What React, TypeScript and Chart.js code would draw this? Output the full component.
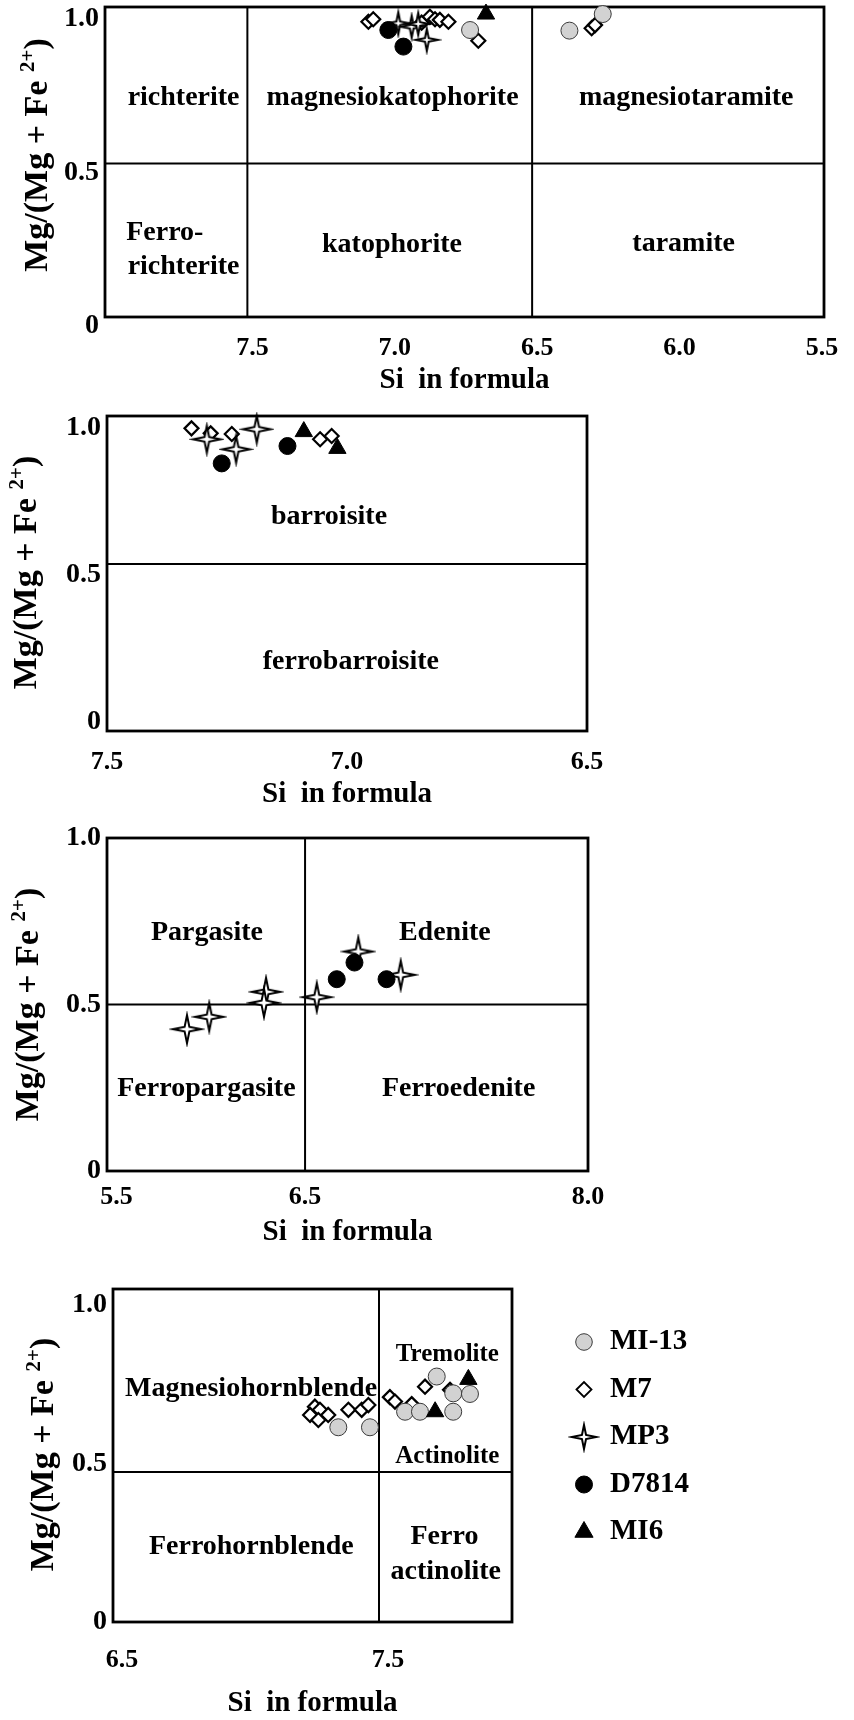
import React, { useEffect, useRef } from 'react';
import { Chart, registerables } from 'chart.js';
import { drawPoint } from 'chart.js/helpers';

Chart.register(...registerables);

const FONT = '"Liberation Serif", "Times New Roman", Times, serif';
Chart.defaults.font.family = FONT;
Chart.defaults.font.weight = 'bold';
Chart.defaults.color = '#000';

type Pt = [number, number];

// ---------- series ----------
const SERIES = ['MI-13', 'M7', 'MP3', 'D7814', 'MI6'];
// drawing order: first = on top
const DRAW_ORDER = ['MI6', 'D7814', 'MP3', 'MI-13', 'M7'];

// ---------- Panel 1 : richterite / katophorite / taramite ----------
const P1_MI13: Pt[] = [[6.718, 0.935], [6.369, 0.933], [6.252, 0.987]];
const P1_M7: Pt[] = [[7.075, 0.962], [7.058, 0.970], [6.888, 0.959], [6.859, 0.978], [6.841, 0.970], [6.824, 0.968], [6.794, 0.962], [6.689, 0.900], [6.291, 0.941], [6.279, 0.951]];
const P1_MP3: Pt[] = [[6.970, 0.957], [6.923, 0.946], [6.900, 0.955], [6.870, 0.903]];
const P1_D7814: Pt[] = [[7.005, 0.935], [6.952, 0.881]];
const P1_MI6: Pt[] = [[6.662, 0.987]];
const P1_SI_RANGE = [5.475, 8.0];
const P1_MG_RANGE = [0, 1.01];
const P1_SI_TICKS = ['7.5', '7.0', '6.5', '6.0', '5.5'];
const P1_MG_TICKS = ['0', '0.5', '1.0'];
const P1_SI_BOUNDS = [7.5, 6.5];
const P1_MG_BOUNDS = [0.5];
const P1_FIELDS = [
  { text: 'richterite', x: 7.724, y: 0.713 },
  { text: 'magnesiokatophorite', x: 6.99, y: 0.713 },
  { text: 'magnesiotaramite', x: 5.959, y: 0.713 },
  { text: 'Ferro-', x: 7.79, y: 0.274 },
  { text: 'richterite', x: 7.724, y: 0.163 },
  { text: 'katophorite', x: 6.992, y: 0.235 },
  { text: 'taramite', x: 5.968, y: 0.24 },
];

// ---------- Panel 2 : barroisite ----------
const P2_MI13: Pt[] = [];
const P2_M7: Pt[] = [[7.324, 0.998], [7.284, 0.981], [7.240, 0.979], [7.056, 0.961], [7.032, 0.972]];
const P2_MP3: Pt[] = [[7.292, 0.961], [7.231, 0.927], [7.188, 0.995]];
const P2_D7814: Pt[] = [[7.261, 0.879], [7.124, 0.938]];
const P2_MI6: Pt[] = [[7.090, 0.987], [7.020, 0.930]];
const P2_SI_RANGE = [6.5, 7.5];
const P2_MG_RANGE = [-0.03, 1.04];
const P2_SI_TICKS = ['7.5', '7.0', '6.5'];
const P2_MG_TICKS = ['0', '0.5', '1.0'];
const P2_SI_BOUNDS: number[] = [];
const P2_MG_BOUNDS = [0.537];
const P2_FIELDS = [
  { text: 'barroisite', x: 7.0375, y: 0.698 },
  { text: 'ferrobarroisite', x: 6.992, y: 0.205 },
];

// ---------- Panel 3 : pargasite / edenite ----------
const P3_MI13: Pt[] = [];
const P3_M7: Pt[] = [];
const P3_MP3: Pt[] = [[6.782, 0.659], [7.007, 0.589], [6.562, 0.522], [6.293, 0.538], [6.282, 0.505], [5.992, 0.463], [5.874, 0.426]];
const P3_D7814: Pt[] = [[6.668, 0.576], [6.762, 0.626], [6.932, 0.576]];
const P3_MI6: Pt[] = [];
const P3_SI_RANGE = [5.45, 8.0];
const P3_MG_RANGE = [0, 1.0];
const P3_SI_TICKS = ['5.5', '6.5', '8.0'];
const P3_MG_TICKS = ['0', '0.5', '1.0'];
const P3_SI_BOUNDS = [6.5];
const P3_MG_BOUNDS = [0.5];
const P3_FIELDS = [
  { text: 'Pargasite', x: 5.98, y: 0.714 },
  { text: 'Edenite', x: 7.241, y: 0.714 },
  { text: 'Ferropargasite', x: 5.977, y: 0.248 },
  { text: 'Ferroedenite', x: 7.314, y: 0.248 },
];

// ---------- Panel 4 : hornblende / actinolite ----------
const P4_MI13: Pt[] = [[7.717, 0.774], [7.779, 0.721], [7.842, 0.719], [7.598, 0.663], [7.654, 0.663], [7.779, 0.663], [7.347, 0.614], [7.466, 0.614]];
const P4_M7: Pt[] = [[7.673, 0.742], [7.767, 0.732], [7.541, 0.709], [7.560, 0.695], [7.623, 0.687], [7.259, 0.679], [7.241, 0.653], [7.278, 0.669], [7.309, 0.653], [7.272, 0.637], [7.385, 0.669], [7.435, 0.669], [7.460, 0.684]];
const P4_MP3: Pt[] = [];
const P4_D7814: Pt[] = [];
const P4_MI6: Pt[] = [[7.836, 0.765], [7.711, 0.663]];
const P4_SI_RANGE = [6.5, 8.0];
const P4_MG_RANGE = [0, 1.05];
const P4_SI_TICKS = ['6.5', '7.5'];
const P4_MG_TICKS = ['0', '0.5', '1.0'];
const P4_SI_BOUNDS = [7.5];
const P4_MG_BOUNDS = [0.473];
const P4_FIELDS = [
  { text: 'Magnesiohornblende', x: 7.019, y: 0.737 },
  { text: 'Tremolite', x: 7.757, y: 0.842, size: 25 },
  { text: 'Actinolite', x: 7.757, y: 0.521, size: 25 },
  { text: 'Ferrohornblende', x: 7.02, y: 0.237 },
  { text: 'Ferro', x: 7.746, y: 0.269 },
  { text: 'actinolite', x: 7.751, y: 0.159 },
];

// ---------- marker styles ----------
function makeStar(R: number, lw: number): HTMLCanvasElement {
  const size = Math.ceil(2 * R + lw * 2 + 4);
  const c = document.createElement('canvas');
  c.width = size;
  c.height = size;
  const ctx = c.getContext('2d')!;
  const cx = size / 2;
  const cy = size / 2;
  const r = R * 0.24;
  ctx.beginPath();
  for (let i = 0; i < 8; i++) {
    const ang = -Math.PI / 2 + (i * Math.PI) / 4;
    const rad = i % 2 === 0 ? R : r;
    const px = cx + Math.cos(ang) * rad;
    const py = cy + Math.sin(ang) * rad;
    if (i === 0) ctx.moveTo(px, py);
    else ctx.lineTo(px, py);
  }
  ctx.closePath();
  ctx.fillStyle = '#fff';
  ctx.fill();
  ctx.lineWidth = lw;
  ctx.lineJoin = 'miter';
  ctx.strokeStyle = '#000';
  ctx.stroke();
  return c;
}

function seriesStyle(name: string, starR: number) {
  switch (name) {
    case 'MI-13':
      return { pointStyle: 'circle', pointRadius: 8.5, backgroundColor: '#d2d2d2', borderColor: '#3a3a3a', borderWidth: 1 };
    case 'M7':
      return { pointStyle: 'rectRot', pointRadius: 7, backgroundColor: '#fff', borderColor: '#000', borderWidth: 2.2 };
    case 'MP3':
      return { pointStyle: makeStar(starR, 2), pointRadius: starR, backgroundColor: '#fff', borderColor: '#000', borderWidth: 2 };
    case 'D7814':
      return { pointStyle: 'circle', pointRadius: 8.5, backgroundColor: '#000', borderColor: '#000', borderWidth: 1 };
    default:
      return { pointStyle: 'triangle', pointRadius: 10, backgroundColor: '#000', borderColor: '#000', borderWidth: 1 };
  }
}

const LEGEND_STYLE: Record<string, any> = {
  'MI-13': { pointStyle: 'circle', radius: 8.3, fill: '#d2d2d2', stroke: '#3a3a3a', borderWidth: 1 },
  M7: { pointStyle: 'rectRot', radius: 7.5, fill: '#fff', stroke: '#000', borderWidth: 1.8 },
  MP3: { star: 12 },
  D7814: { pointStyle: 'circle', radius: 8.5, fill: '#000', stroke: '#000', borderWidth: 1 },
  MI6: { pointStyle: 'triangle', radius: 10.5, fill: '#000', stroke: '#000', borderWidth: 1 },
};

// ---------- decoration plugin ----------
function drawYTitle(ctx: CanvasRenderingContext2D, cx: number, cy: number, size: number) {
  const main = 'Mg/(Mg + Fe ';
  const sup = '2+';
  const end = ')';
  const f1 = `bold ${size}px ${FONT}`;
  const f2 = `bold ${Math.round(size * 0.62)}px ${FONT}`;
  ctx.save();
  ctx.translate(cx, cy);
  ctx.rotate(-Math.PI / 2);
  ctx.font = f1;
  const w1 = ctx.measureText(main).width;
  const w3 = ctx.measureText(end).width;
  ctx.font = f2;
  const w2 = ctx.measureText(sup).width;
  let x = -(w1 + w2 + w3) / 2;
  const base = size * 0.33;
  ctx.fillStyle = '#000';
  ctx.textAlign = 'left';
  ctx.textBaseline = 'alphabetic';
  ctx.font = f1;
  ctx.fillText(main, x, base);
  x += w1;
  ctx.font = f2;
  ctx.fillText(sup, x, base - size * 0.38);
  x += w2;
  ctx.font = f1;
  ctx.fillText(end, x, base);
  ctx.restore();
}

const decorPlugin = {
  id: 'decor',
  beforeDatasetsDraw(chart: any, _args: any, opts: any) {
    const { ctx, chartArea: a, scales } = chart;
    ctx.save();
    ctx.fillStyle = '#000';
    ctx.textAlign = 'center';
    ctx.textBaseline = 'middle';
    for (const f of opts.fields || []) {
      ctx.font = `bold ${f.size || 28}px ${FONT}`;
      ctx.fillText(f.text, scales.x.getPixelForValue(f.x), scales.y.getPixelForValue(f.y));
    }
    ctx.lineWidth = 2.8;
    ctx.strokeStyle = '#000';
    ctx.strokeRect(a.left, a.top, a.right - a.left, a.bottom - a.top);
    ctx.restore();
  },
  afterDraw(chart: any, _args: any, opts: any) {
    const { ctx, chartArea: a } = chart;
    ctx.save();
    // x title
    ctx.fillStyle = '#000';
    ctx.textAlign = 'center';
    ctx.textBaseline = 'middle';
    ctx.font = `bold 29px ${FONT}`;
    ctx.fillText('Si  in formula', (a.left + a.right) / 2, a.bottom + opts.xTitleDy);
    // y title
    drawYTitle(ctx, a.left - opts.yTitleDx, (a.top + a.bottom) / 2 + opts.yTitleDy, 34);
    // legend
    if (opts.legend) {
      const L = opts.legend;
      SERIES.forEach((name, i) => {
        const x = a.right + L.dx;
        const y = a.top + L.y0 + i * L.step;
        const st = LEGEND_STYLE[name];
        if (st.star) {
          const img = makeStar(st.star, 2);
          ctx.drawImage(img, x - img.width / 2, y - img.height / 2);
        } else {
          ctx.fillStyle = st.fill;
          ctx.strokeStyle = st.stroke;
          ctx.lineWidth = st.borderWidth;
          drawPoint(ctx, { pointStyle: st.pointStyle, radius: st.radius, borderWidth: st.borderWidth, rotation: 0 } as any, x, y);
        }
        ctx.fillStyle = '#000';
        ctx.textAlign = 'left';
        ctx.textBaseline = 'middle';
        ctx.font = `bold 29px ${FONT}`;
        ctx.fillText(name, a.right + L.tx, y);
      });
    }
    ctx.restore();
  },
};

// ---------- panel configs ----------
interface PanelCfg {
  top: number;
  height: number;
  area: { left: number; top: number; right: number; bottom: number };
  series: Record<string, Pt[]>;
  siRange: number[];
  mgRange: number[];
  reverse: boolean;
  siTicks: string[];
  mgTicks: string[];
  siBounds: number[];
  mgBounds: number[];
  fields: any[];
  starR: number;
  xPad: number;
  xLabelOffset: number;
  yLabelOffset: number;
  xTitleDy: number;
  yTitleDx: number;
  yTitleDy: number;
  legend?: any;
}

const WIDTH = 854;

const PANELS: PanelCfg[] = [
  {
    top: 0, height: 405, area: { left: 105, top: 7, right: 824, bottom: 317 },
    series: { 'MI-13': P1_MI13, M7: P1_M7, MP3: P1_MP3, D7814: P1_D7814, MI6: P1_MI6 },
    siRange: P1_SI_RANGE, mgRange: P1_MG_RANGE, reverse: true, siTicks: P1_SI_TICKS, mgTicks: P1_MG_TICKS,
    siBounds: P1_SI_BOUNDS, mgBounds: P1_MG_BOUNDS, fields: P1_FIELDS, starR: 11,
    xPad: 16, xLabelOffset: 5, yLabelOffset: 9, xTitleDy: 64, yTitleDx: 69, yTitleDy: -7,
  },
  {
    top: 405, height: 440, area: { left: 107, top: 11, right: 587, bottom: 326 },
    series: { 'MI-13': P2_MI13, M7: P2_M7, MP3: P2_MP3, D7814: P2_D7814, MI6: P2_MI6 },
    siRange: P2_SI_RANGE, mgRange: P2_MG_RANGE, reverse: true, siTicks: P2_SI_TICKS, mgTicks: P2_MG_TICKS,
    siBounds: P2_SI_BOUNDS, mgBounds: P2_MG_BOUNDS, fields: P2_FIELDS, starR: 13.5,
    xPad: 16, xLabelOffset: 0, yLabelOffset: 0, xTitleDy: 64, yTitleDx: 82, yTitleDy: -1,
  },
  {
    top: 810, height: 450, area: { left: 107, top: 28, right: 588, bottom: 361 },
    series: { 'MI-13': P3_MI13, M7: P3_M7, MP3: P3_MP3, D7814: P3_D7814, MI6: P3_MI6 },
    siRange: P3_SI_RANGE, mgRange: P3_MG_RANGE, reverse: false, siTicks: P3_SI_TICKS, mgTicks: P3_MG_TICKS,
    siBounds: P3_SI_BOUNDS, mgBounds: P3_MG_BOUNDS, fields: P3_FIELDS, starR: 14,
    xPad: 11, xLabelOffset: 0, yLabelOffset: 0, xTitleDy: 62, yTitleDx: 80, yTitleDy: 0,
  },
  {
    top: 1260, height: 460, area: { left: 113, top: 29, right: 512, bottom: 362 },
    series: { 'MI-13': P4_MI13, M7: P4_M7, MP3: P4_MP3, D7814: P4_D7814, MI6: P4_MI6 },
    siRange: P4_SI_RANGE, mgRange: P4_MG_RANGE, reverse: false, siTicks: P4_SI_TICKS, mgTicks: P4_MG_TICKS,
    siBounds: P4_SI_BOUNDS, mgBounds: P4_MG_BOUNDS, fields: P4_FIELDS, starR: 12,
    xPad: 23, xLabelOffset: 9, yLabelOffset: 0, xTitleDy: 82, yTitleDx: 71, yTitleDy: -1,
    legend: { dx: 72, tx: 98, y0: 53, step: 47.5 },
  },
];

function labelFor(labels: string[], value: number) {
  const found = labels.find((l) => Math.abs(parseFloat(l) - value) < 1e-6);
  return found ?? String(value);
}

function buildConfig(p: PanelCfg): any {
  const datasets: any[] = [];
  DRAW_ORDER.forEach((name) => {
    const pts = p.series[name] || [];
    datasets.push({
      label: name,
      data: pts.map(([x, y]) => ({ x, y })),
      ...seriesStyle(name, p.starR),
      clip: false,
    });
  });
  p.siBounds.forEach((v) => {
    datasets.push({
      label: 'bound',
      data: [{ x: v, y: p.mgRange[0] }, { x: v, y: p.mgRange[1] }],
      showLine: true, pointRadius: 0, borderColor: '#000', borderWidth: 2, clip: false,
    });
  });
  p.mgBounds.forEach((v) => {
    datasets.push({
      label: 'bound',
      data: [{ x: p.siRange[0], y: v }, { x: p.siRange[1], y: v }],
      showLine: true, pointRadius: 0, borderColor: '#000', borderWidth: 2, clip: false,
    });
  });

  return {
    type: 'scatter',
    data: { datasets },
    plugins: [decorPlugin],
    options: {
      responsive: false,
      animation: false,
      devicePixelRatio: 1,
      events: [],
      layout: {
        autoPadding: false,
        padding: { left: 0, top: p.area.top, right: WIDTH - p.area.right, bottom: 0 },
      },
      plugins: {
        legend: { display: false },
        tooltip: { enabled: false },
        title: { display: false },
        decor: {
          fields: p.fields,
          xTitleDy: p.xTitleDy,
          yTitleDx: p.yTitleDx,
          yTitleDy: p.yTitleDy,
          legend: p.legend,
        },
      },
      scales: {
        x: {
          type: 'linear',
          position: 'bottom',
          min: p.siRange[0],
          max: p.siRange[1],
          reverse: p.reverse,
          grid: { display: false, drawTicks: false },
          border: { display: false },
          afterBuildTicks: (scale: any) => {
            scale.ticks = p.siTicks.map((t) => ({ value: parseFloat(t) }));
          },
          afterFit: (scale: any) => {
            scale.height = p.height - p.area.bottom;
            scale.paddingLeft = 0;
            scale.paddingRight = 0;
            scale.paddingTop = 0;
            scale.paddingBottom = 0;
          },
          ticks: {
            autoSkip: false,
            maxRotation: 0,
            padding: p.xPad,
            labelOffset: p.xLabelOffset,
            color: '#000',
            font: { size: 26, weight: 'bold', family: FONT },
            callback: (v: any) => labelFor(p.siTicks, Number(v)),
          },
        },
        y: {
          type: 'linear',
          position: 'left',
          min: p.mgRange[0],
          max: p.mgRange[1],
          grid: { display: false, drawTicks: false },
          border: { display: false },
          afterBuildTicks: (scale: any) => {
            scale.ticks = p.mgTicks.map((t) => ({ value: parseFloat(t) }));
          },
          afterFit: (scale: any) => {
            scale.width = p.area.left;
            scale.paddingLeft = 0;
            scale.paddingRight = 0;
            scale.paddingTop = 0;
            scale.paddingBottom = 0;
          },
          ticks: {
            autoSkip: false,
            padding: 6,
            labelOffset: p.yLabelOffset,
            color: '#000',
            font: { size: 28, weight: 'bold', family: FONT },
            callback: (v: any) => labelFor(p.mgTicks, Number(v)),
          },
        },
      },
    },
  };
}

function Panel({ cfg }: { cfg: PanelCfg }) {
  const ref = useRef<HTMLCanvasElement>(null);
  useEffect(() => {
    const chart = new Chart(ref.current as HTMLCanvasElement, buildConfig(cfg));
    return () => chart.destroy();
  }, [cfg]);
  return (
    <canvas
      ref={ref}
      width={WIDTH}
      height={cfg.height}
      style={{ position: 'absolute', left: 0, top: cfg.top, width: WIDTH, height: cfg.height }}
    />
  );
}

export default function App() {
  return (
    <div style={{ position: 'absolute', left: 0, top: 0, width: WIDTH, height: 1720, background: '#fff' }}>
      {PANELS.map((p, i) => (
        <Panel key={i} cfg={p} />
      ))}
    </div>
  );
}
